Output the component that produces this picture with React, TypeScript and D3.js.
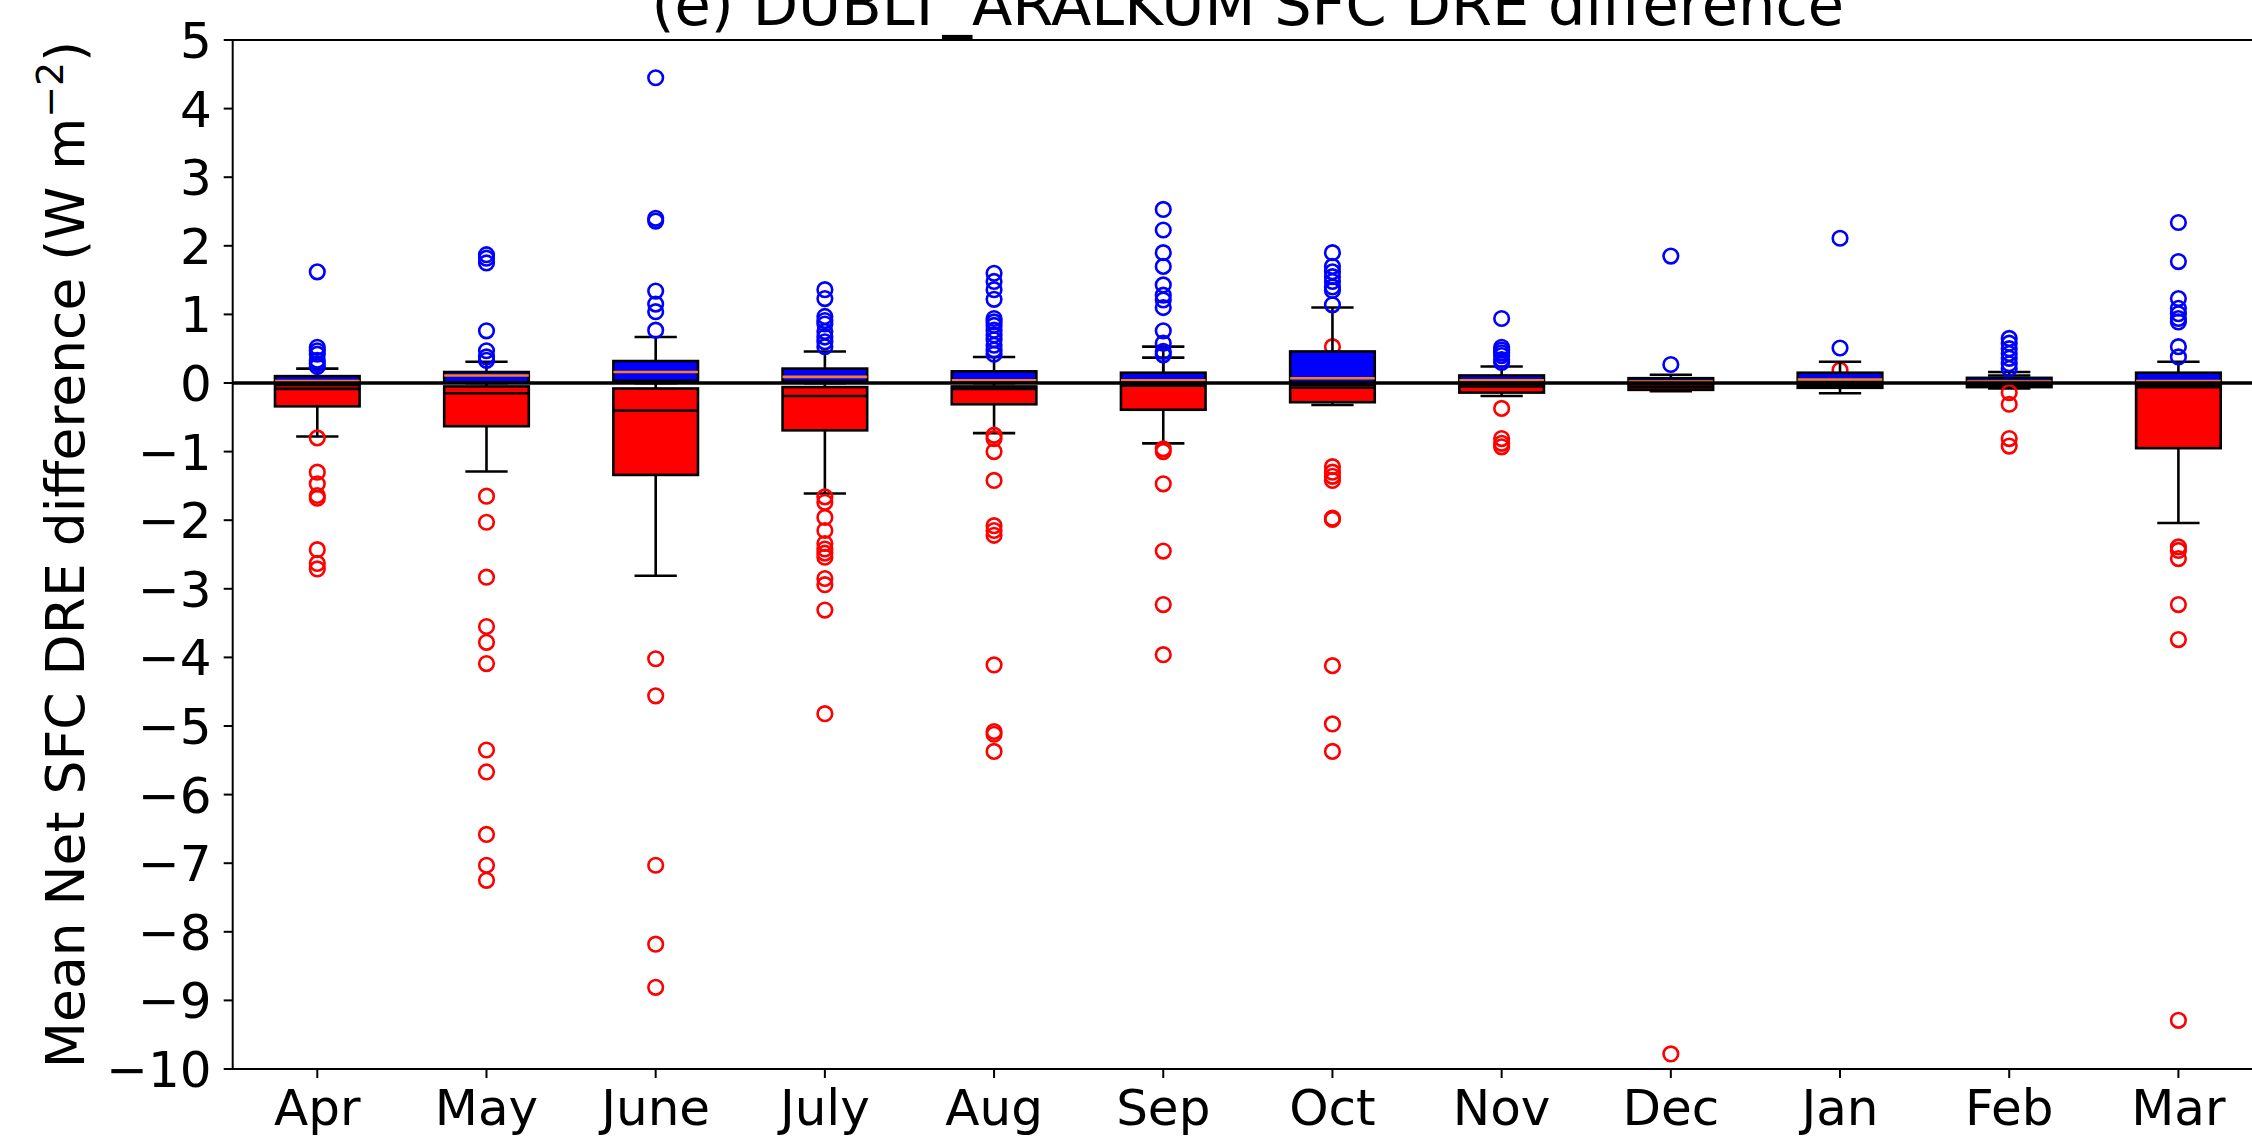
import React from "react";
import * as d3 from "d3";

const months = ["Apr", "May", "June", "July", "Aug", "Sep", "Oct", "Nov", "Dec", "Jan", "Feb", "Mar"];

// Blue boxes (upper distribution)
const blueQ1 = [0.01, 0.01, 0.03, 0.02, 0.01, 0.01, 0.01, 0.0, 0.0, 0.01, 0.0, 0.0];
const blueMed = [0.03, 0.11, 0.16, 0.09, 0.04, 0.04, 0.07, 0.04, 0.02, 0.05, 0.02, 0.03];
const blueQ3 = [0.1, 0.16, 0.32, 0.21, 0.17, 0.15, 0.46, 0.11, 0.07, 0.15, 0.075, 0.15];
const blueLo = [0.0, 0.0, 0.0, 0.0, 0.0, 0.0, 0.0, 0.0, 0.0, 0.0, 0.0, 0.0];
const blueHi = [0.21, 0.31, 0.67, 0.46, 0.38, 0.37, 1.1, 0.24, 0.12, 0.31, 0.16, 0.31];
const blueFliers = [
  [1.62, 0.52, 0.47, 0.42, 0.33, 0.28, 0.24],
  [1.87, 1.82, 1.75, 0.76, 0.47, 0.38, 0.33],
  [4.45, 2.4, 2.36, 1.34, 1.15, 1.04, 0.77],
  [1.36, 1.23, 0.97, 0.91, 0.86, 0.75, 0.67, 0.6, 0.53],
  [1.6, 1.48, 1.36, 1.22, 0.94, 0.89, 0.84, 0.77, 0.7, 0.63, 0.55, 0.48, 0.42],
  [2.53, 2.23, 1.9, 1.7, 1.43, 1.28, 1.21, 1.1, 0.76, 0.58, 0.46, 0.41],
  [1.9, 1.7, 1.62, 1.55, 1.48, 1.4, 1.35, 1.14],
  [0.94, 0.52, 0.48, 0.44, 0.4, 0.34, 0.3],
  [1.85, 0.27],
  [2.11, 0.51],
  [0.65, 0.58, 0.5, 0.43, 0.36, 0.28, 0.21],
  [2.34, 1.77, 1.23, 1.09, 1.01, 0.94, 0.89, 0.53, 0.38],
];

// Red boxes (lower distribution)
const redQ1 = [-0.34, -0.63, -1.34, -0.69, -0.31, -0.39, -0.28, -0.14, -0.1, -0.07, -0.06, -0.95];
const redMed = [-0.085, -0.15, -0.4, -0.19, -0.085, -0.04, -0.07, -0.05, -0.06, -0.04, -0.03, -0.06];
const redQ3 = [-0.03, -0.05, -0.08, -0.06, -0.05, -0.02, -0.03, -0.02, -0.02, -0.01, -0.01, -0.03];
const redLo = [-0.78, -1.29, -2.81, -1.61, -0.73, -0.88, -0.32, -0.19, -0.12, -0.15, -0.08, -2.04];
const redHi = [0.0, 0.0, 0.0, 0.0, 0.0, 0.53, 0.0, 0.0, 0.0, 0.0, 0.11, 0.0];
const redFliers = [
  [-0.8, -1.3, -1.47, -1.64, -1.68, -2.43, -2.63, -2.71],
  [-1.65, -2.03, -2.83, -3.55, -3.78, -4.09, -5.35, -5.67, -6.58, -7.03, -7.25],
  [-4.02, -4.56, -7.03, -8.18, -8.81],
  [-1.66, -1.74, -1.96, -2.15, -2.34, -2.42, -2.48, -2.54, -2.85, -2.94, -3.31, -4.82],
  [-0.76, -0.81, -1.0, -1.42, -2.08, -2.15, -2.22, -4.11, -5.08, -5.12, -5.37],
  [-0.96, -1.0, -1.47, -2.45, -3.23, -3.96],
  [0.53, -1.22, -1.3, -1.36, -1.42, -1.97, -1.99, -4.12, -4.97, -5.37],
  [-0.37, -0.81, -0.88, -0.93],
  [-9.78],
  [0.19],
  [-0.14, -0.31, -0.81, -0.92],
  [-2.39, -2.44, -2.56, -3.23, -3.74, -9.29],
];

const yTicks = [-10, -9, -8, -7, -6, -5, -4, -3, -2, -1, 0, 1, 2, 3, 4, 5];

const W = 2252;
const H = 1141;
const left = 232.7;
const right = 2263;
const top = 40;
const bottom = 1069;

const x = d3.scaleLinear().domain([0.5, 12.5]).range([left, right]);
const y = d3.scaleLinear().domain([-10, 5]).range([bottom, top]);

const BOX_W = 0.5;
const FONT = "DejaVu Sans, sans-serif";
const LW = 2.6;

type BoxStats = { q1: number; med: number; q3: number; lo: number; hi: number; fliers: number[] };

function Box({ pos, s, fill, flierColor, medColor }: { pos: number; s: BoxStats; fill: string; flierColor: string; medColor: string }) {
  const x0 = x(pos - BOX_W / 2);
  const x1 = x(pos + BOX_W / 2);
  const cx = x(pos);
  const c0 = x(pos - BOX_W / 4);
  const c1 = x(pos + BOX_W / 4);
  return (
    <g>
      <line x1={cx} x2={cx} y1={y(s.q1)} y2={y(s.lo)} stroke="#000" strokeWidth={LW} />
      <line x1={cx} x2={cx} y1={y(s.q3)} y2={y(s.hi)} stroke="#000" strokeWidth={LW} />
      <line x1={c0} x2={c1} y1={y(s.lo)} y2={y(s.lo)} stroke="#000" strokeWidth={LW} />
      <line x1={c0} x2={c1} y1={y(s.hi)} y2={y(s.hi)} stroke="#000" strokeWidth={LW} />
      <rect x={x0} y={y(s.q3)} width={x1 - x0} height={Math.max(0.5, y(s.q1) - y(s.q3))} fill={fill} stroke="#000" strokeWidth={LW} />
      <line x1={x0} x2={x1} y1={y(s.med)} y2={y(s.med)} stroke={medColor} strokeWidth={2.6} />
      {s.fliers.map((v, k) => (
        <circle key={k} cx={cx} cy={y(v)} r={7.3} fill="none" stroke={flierColor} strokeWidth={2.6} />
      ))}
    </g>
  );
}

export default function App() {
  return (
    <svg width={W} height={H} style={{ position: "fixed", left: 0, top: 0, background: "#fff" }} fontFamily={FONT}>
      <rect x={0} y={0} width={W} height={H} fill="#fff" />
      {months.map((m, i) => (
        <Box
          key={"r" + m}
          pos={i + 1}
          s={{ q1: redQ1[i], med: redMed[i], q3: redQ3[i], lo: redLo[i], hi: redHi[i], fliers: redFliers[i] }}
          fill="#ff0000"
          flierColor="#ff0000"
          medColor="#000000"
        />
      ))}
      {months.map((m, i) => (
        <Box
          key={"b" + m}
          pos={i + 1}
          s={{ q1: blueQ1[i], med: blueMed[i], q3: blueQ3[i], lo: blueLo[i], hi: blueHi[i], fliers: blueFliers[i] }}
          fill="#0000ff"
          flierColor="#0000ff"
          medColor="#ff7f0e"
        />
      ))}
      <line x1={left} x2={right} y1={y(0)} y2={y(0)} stroke="#000" strokeWidth={3.3} />
      {/* spines */}
      <rect x={left} y={top} width={right - left} height={bottom - top} fill="none" stroke="#000" strokeWidth={2} />
      {/* y ticks */}
      {yTicks.map((t) => (
        <g key={"y" + t}>
          <line x1={left - 9} x2={left} y1={y(t)} y2={y(t)} stroke="#000" strokeWidth={2} />
          <text x={left - 21} y={y(t)} dy="0.36em" textAnchor="end" fontSize={50} fill="#000">
            {t < 0 ? "\u2212" + Math.abs(t) : String(t)}
          </text>
        </g>
      ))}
      {/* x ticks */}
      {months.map((m, i) => (
        <g key={"x" + m}>
          <line x1={x(i + 1)} x2={x(i + 1)} y1={bottom} y2={bottom + 9} stroke="#000" strokeWidth={2} />
          <text x={x(i + 1)} y={1125} textAnchor="middle" fontSize={50} fill="#000">
            {m}
          </text>
        </g>
      ))}
      {/* y label */}
      <text transform={`translate(84, ${(top + bottom) / 2}) rotate(-90)`} textAnchor="middle" fontSize={53.5} fill="#000">
        Mean Net SFC DRE difference (W m
        <tspan fontSize={38} dy={-21}>{"\u22122"}</tspan>
        <tspan dy={21}>)</tspan>
      </text>
      {/* title */}
      <text x={(left + right) / 2} y={25} textAnchor="middle" fontSize={59} fill="#000">
        (e) DUBLT_ARALKUM SFC DRE difference
      </text>
    </svg>
  );
}
